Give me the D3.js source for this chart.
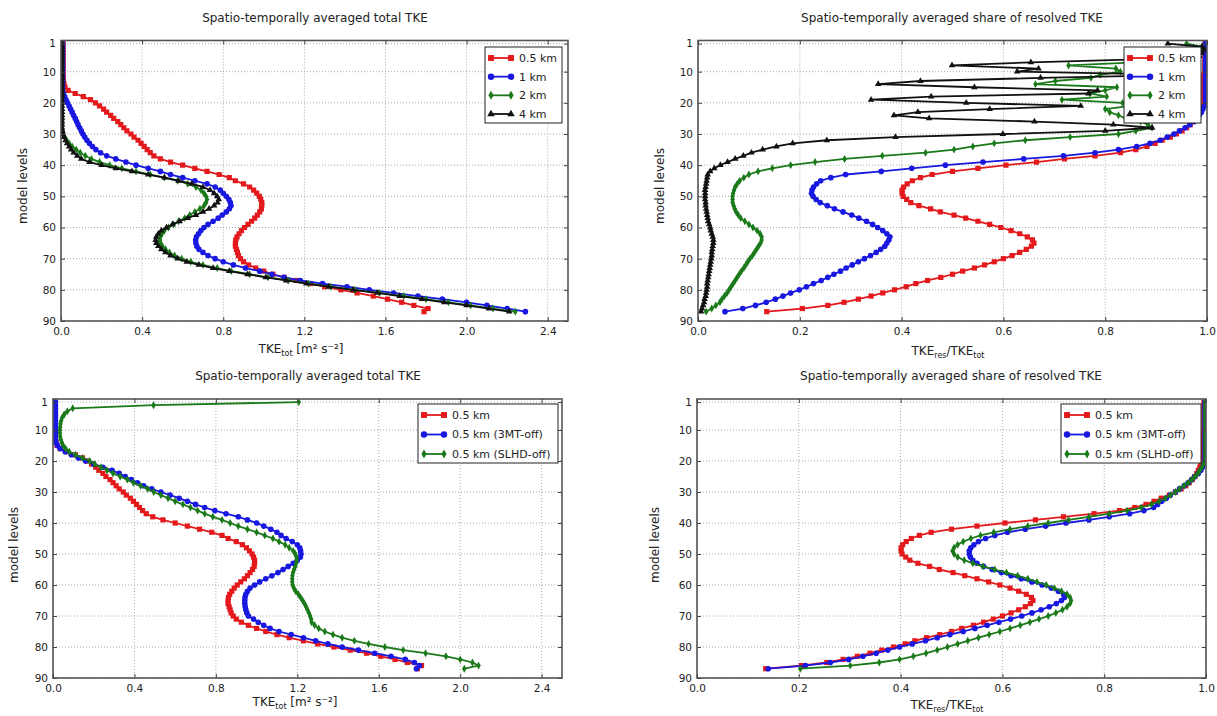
<!DOCTYPE html>
<html>
<head>
<meta charset="utf-8">
<script src="https://cdn.jsdelivr.net/npm/d3@7"></script>
<style>
  body { margin: 0; background: #fff; }
  text { font-family: "DejaVu Sans", sans-serif; fill: #222; }
</style>
</head>
<body>
<svg id="chart" width="1217" height="716"></svg>
<script>
// model levels (1 = top of atmosphere, 87 = lowest level)
const levels = [1,2,3,4,5,6,7,8,9,10,11,12,13,14,15,16,17,18,19,20,21,22,23,24,25,26,27,28,29,30,
  31,32,33,34,35,36,37,38,39,40,41,42,43,44,45,46,47,48,49,50,51,52,53,54,55,56,57,58,59,60,
  61,62,63,64,65,66,67,68,69,70,71,72,73,74,75,76,77,78,79,80,81,82,83,84,85,86,87];

const levelTicks = [1, 10, 20, 30, 40, 50, 60, 70, 80, 90];
const tkeTicks = [0, 0.4, 0.8, 1.2, 1.6, 2.0, 2.4];
const shareTicks = [0, 0.2, 0.4, 0.6, 0.8, 1.0];

// total TKE [m2 s-2]
const tke05 = [0.01,0.01,0.01,0.01,0.01,0.01,0.01,0.01,0.01,0.01,0.01,0.011,0.012,0.015,
  0.02,0.035,0.07,0.11,0.145,0.17,
  0.19,0.21,0.225,0.245,0.26,0.28,0.295,0.31,0.325,0.345,
  0.36,0.38,0.395,0.41,0.425,0.44,0.458,0.49,0.54,0.6,
  0.66,0.72,0.78,0.83,0.86,0.9,0.93,0.95,0.965,0.978,
  0.985,0.99,0.99,0.988,0.98,0.968,0.955,0.94,0.922,0.905,
  0.89,0.878,0.868,0.862,0.86,0.86,0.865,0.87,0.875,0.885,
  0.9,0.925,0.96,1.0,1.045,1.1,1.16,1.23,1.3,1.38,
  1.46,1.54,1.61,1.68,1.74,1.81,1.79];
const tke1 = [0.008,0.008,0.008,0.008,0.008,0.008,0.008,0.008,0.008,0.008,0.008,0.008,0.008,0.008,0.008,0.008,
  0.012,0.018,0.025,0.032,
  0.04,0.047,0.055,0.062,0.07,0.077,0.084,0.092,0.1,0.108,
  0.117,0.128,0.14,0.155,0.172,0.195,0.225,0.27,0.32,0.37,
  0.43,0.49,0.54,0.6,0.66,0.72,0.76,0.785,0.8,0.815,
  0.828,0.835,0.838,0.83,0.815,0.795,0.775,0.75,0.725,0.705,
  0.69,0.678,0.668,0.664,0.665,0.67,0.68,0.7,0.725,0.76,
  0.8,0.85,0.91,0.98,1.04,1.1,1.18,1.29,1.41,1.52,
  1.64,1.76,1.88,2.0,2.1,2.2,2.29];
const tke2 = [0.005,0.005,0.005,0.005,0.005,0.005,0.005,0.005,0.005,0.005,0.005,0.005,0.005,0.005,
  0.005,0.005,0.005,0.005,0.005,0.005,0.005,0.005,0.005,0.005,0.005,0.005,0.005,0.005,
  0.008,0.012,
  0.018,0.028,0.04,0.055,0.075,0.095,0.12,0.15,0.19,0.24,
  0.3,0.37,0.44,0.51,0.575,0.625,0.665,0.69,0.705,0.715,
  0.72,0.715,0.705,0.685,0.66,0.635,0.61,0.58,0.555,0.53,
  0.51,0.498,0.49,0.488,0.49,0.5,0.515,0.535,0.56,0.595,
  0.64,0.7,0.77,0.84,0.93,1.02,1.12,1.22,1.33,1.45,
  1.57,1.69,1.8,1.91,2.02,2.13,2.24];
const tke4 = [0.005,0.005,0.005,0.005,0.005,0.005,0.005,0.005,0.005,0.005,0.005,0.005,0.005,0.005,
  0.005,0.005,0.005,0.005,0.005,0.005,0.005,0.005,0.005,0.005,0.005,0.005,0.005,0.005,
  0.007,0.01,
  0.015,0.022,0.03,0.04,0.05,0.062,0.08,0.1,0.14,0.2,
  0.27,0.35,0.43,0.51,0.58,0.645,0.7,0.735,0.755,0.77,
  0.778,0.772,0.755,0.73,0.7,0.665,0.625,0.585,0.55,0.52,
  0.495,0.48,0.47,0.467,0.47,0.48,0.495,0.515,0.54,0.575,
  0.62,0.68,0.75,0.83,0.92,1.01,1.11,1.21,1.32,1.44,
  1.56,1.67,1.78,1.89,2.0,2.11,2.21];
const tke05_3mt = [0.012,0.012,0.012,0.012,0.012,0.012,0.012,0.012,0.012,0.012,0.012,0.012,0.012,
  0.015,0.022,0.035,0.06,0.09,0.125,0.16,
  0.2,0.245,0.29,0.325,0.355,0.385,0.415,0.445,0.485,0.53,
  0.575,0.62,0.66,0.7,0.745,0.795,0.85,0.91,0.955,1.0,
  1.035,1.07,1.1,1.12,1.145,1.175,1.2,1.212,1.216,1.218,
  1.215,1.2,1.18,1.155,1.13,1.105,1.075,1.045,1.015,0.99,
  0.968,0.955,0.947,0.943,0.942,0.942,0.944,0.947,0.952,0.96,
  0.985,1.008,1.035,1.066,1.11,1.17,1.23,1.29,1.35,1.42,
  1.5,1.58,1.66,1.73,1.775,1.8,1.785];
const tke05_slhd = [1.207,0.494,0.097,0.07,0.055,0.045,0.04,0.037,0.035,0.034,
  0.034,0.035,0.038,0.043,0.05,0.062,0.08,0.11,0.145,0.18,
  0.205,0.235,0.265,0.295,0.33,0.365,0.395,0.43,0.465,0.495,
  0.53,0.565,0.6,0.638,0.675,0.71,0.745,0.785,0.83,0.87,
  0.91,0.955,1.0,1.04,1.08,1.11,1.14,1.16,1.18,1.19,
  1.196,1.197,1.194,1.19,1.184,1.179,1.176,1.175,1.175,1.177,
  1.183,1.192,1.205,1.216,1.226,1.235,1.243,1.25,1.257,1.263,
  1.268,1.27,1.285,1.305,1.335,1.375,1.42,1.48,1.55,1.63,
  1.72,1.83,1.93,2.0,2.06,2.09,2.02];

// share of resolved TKE (TKE_res / TKE_tot)
const res05 = [0.996,0.996,0.996,0.996,0.996,0.996,0.996,0.996,0.996,0.996,
  0.994,0.994,0.994,0.994,0.994,0.994,0.994,0.994,0.994,0.994,
  0.99,0.988,0.985,0.982,0.978,0.973,0.967,0.96,0.951,0.94,
  0.928,0.912,0.898,0.882,0.86,0.83,0.78,0.72,0.665,0.605,
  0.55,0.5,0.46,0.437,0.421,0.411,0.404,0.401,0.401,0.403,
  0.41,0.418,0.434,0.457,0.476,0.503,0.526,0.55,0.573,0.595,
  0.615,0.632,0.647,0.657,0.66,0.655,0.645,0.632,0.617,0.6,
  0.582,0.563,0.543,0.52,0.5,0.477,0.451,0.428,0.409,0.386,
  0.363,0.34,0.315,0.287,0.255,0.205,0.135];
const res1 = [0.997,0.997,0.997,0.997,0.997,0.997,0.997,0.997,0.997,0.997,
  0.997,0.997,0.997,0.997,0.997,0.997,0.997,0.997,0.997,0.997,
  0.995,0.992,0.989,0.985,0.98,0.974,0.966,0.957,0.946,0.935,
  0.922,0.908,0.888,0.862,0.826,0.78,0.718,0.64,0.56,0.486,
  0.42,0.36,0.29,0.261,0.241,0.233,0.227,0.224,0.223,0.226,
  0.232,0.24,0.254,0.268,0.285,0.302,0.316,0.331,0.343,0.353,
  0.363,0.371,0.377,0.375,0.371,0.367,0.359,0.35,0.339,0.327,
  0.315,0.303,0.291,0.28,0.267,0.255,0.242,0.227,0.213,0.199,
  0.182,0.167,0.152,0.134,0.113,0.088,0.053];
const res2 = [0.96,0.99,0.99,0.985,0.98,0.96,0.86,0.728,0.821,0.83,
  0.79,0.772,0.702,0.663,0.823,0.8,0.77,0.803,0.715,0.834,
  0.85,0.8,0.809,0.826,0.84,0.87,0.884,0.892,0.86,0.826,
  0.731,0.643,0.582,0.54,0.503,0.447,0.362,0.288,0.23,0.182,
  0.146,0.118,0.1,0.09,0.082,0.077,0.073,0.071,0.069,0.068,
  0.068,0.068,0.07,0.072,0.075,0.079,0.084,0.092,0.1,0.108,
  0.116,0.122,0.125,0.125,0.123,0.119,0.115,0.111,0.107,0.102,
  0.098,0.094,0.09,0.085,0.081,0.077,0.073,0.069,0.065,0.061,
  0.057,0.052,0.047,0.043,0.035,0.027,0.016];
const res4 = [0.923,0.99,0.995,0.99,0.985,0.88,0.654,0.499,0.669,0.627,
  0.96,0.673,0.437,0.354,0.543,0.785,0.767,0.458,0.34,0.527,
  0.752,0.573,0.432,0.385,0.454,0.661,0.816,0.892,0.8,0.599,
  0.388,0.253,0.186,0.154,0.127,0.105,0.089,0.073,0.058,0.044,
  0.032,0.024,0.019,0.018,0.017,0.016,0.015,0.014,0.014,0.014,
  0.014,0.015,0.015,0.016,0.017,0.018,0.019,0.02,0.022,0.024,
  0.025,0.027,0.029,0.03,0.03,0.029,0.028,0.027,0.027,0.026,
  0.025,0.024,0.023,0.022,0.021,0.02,0.019,0.018,0.018,0.017,
  0.016,0.015,0.013,0.012,0.01,0.008,0.006];
const res05_3mt = [0.998,0.998,0.998,0.998,0.998,0.998,0.998,0.998,0.998,0.998,
  0.998,0.998,0.998,0.998,0.998,0.998,0.998,0.998,0.998,0.998,
  0.996,0.993,0.99,0.985,0.978,0.972,0.965,0.957,0.948,0.94,
  0.93,0.922,0.913,0.905,0.897,0.878,0.85,0.81,0.77,0.725,
  0.685,0.645,0.61,0.585,0.567,0.553,0.544,0.538,0.535,0.535,
  0.537,0.542,0.55,0.563,0.58,0.598,0.617,0.637,0.658,0.678,
  0.696,0.71,0.72,0.722,0.716,0.706,0.692,0.676,0.658,0.638,
  0.616,0.593,0.57,0.546,0.523,0.497,0.472,0.449,0.423,0.398,
  0.375,0.352,0.326,0.298,0.262,0.213,0.14];
const res05_slhd = [0.998,0.998,0.998,0.998,0.998,0.998,0.998,0.998,0.998,0.998,
  0.998,0.998,0.998,0.998,0.998,0.998,0.998,0.998,0.998,0.998,
  0.995,0.992,0.988,0.984,0.978,0.972,0.965,0.957,0.948,0.94,
  0.93,0.92,0.908,0.893,0.873,0.845,0.81,0.77,0.73,0.69,
  0.65,0.615,0.583,0.557,0.538,0.523,0.512,0.505,0.502,0.505,
  0.512,0.525,0.542,0.562,0.585,0.608,0.63,0.65,0.668,0.686,
  0.702,0.716,0.727,0.733,0.735,0.733,0.727,0.718,0.705,0.69,
  0.672,0.654,0.635,0.615,0.595,0.574,0.553,0.532,0.512,0.492,
  0.472,0.45,0.425,0.398,0.358,0.301,0.203];

const titleTotal = 'Spatio-temporally averaged total TKE';
const titleShare = 'Spatio-temporally averaged share of resolved TKE';

const RED = '#e3191c', BLUE = '#1818e0', GREEN = '#1a7a1a', BLACK = '#111';
const mk = {
  square: { type: d3.symbolSquare, size: 27 },
  circle: { type: d3.symbolCircle, size: 25 },
  diamond: { type: d3.symbolDiamond, size: 18 },
  triangle: { type: d3.symbolTriangle, size: 19 }
};

const panels = [
  { id: 1, kind: 'tke', left: 61, right: 568, top: 40.5, bottom: 321,
    titleX: 315, titleY: 22, xlabX: 301, xlabY: 353, ylabX: 23, ylabY: 186,
    legend: { x: 485, y: 47, w: 77, h: 76 },
    series: [
      { name: '0.5 km', values: tke05, color: RED, marker: mk.square },
      { name: '1 km', values: tke1, color: BLUE, marker: mk.circle },
      { name: '2 km', values: tke2, color: GREEN, marker: mk.diamond },
      { name: '4 km', values: tke4, color: BLACK, marker: mk.triangle }
    ] },
  { id: 2, kind: 'share', left: 698, right: 1207, top: 40.5, bottom: 321,
    titleX: 952, titleY: 22, xlabX: 948, xlabY: 355, ylabX: 660, ylabY: 186,
    legend: { x: 1124, y: 47, w: 77, h: 76 },
    series: [
      { name: '0.5 km', values: res05, color: RED, marker: mk.square },
      { name: '1 km', values: res1, color: BLUE, marker: mk.circle },
      { name: '2 km', values: res2, color: GREEN, marker: mk.diamond },
      { name: '4 km', values: res4, color: BLACK, marker: mk.triangle }
    ] },
  { id: 3, kind: 'tke', left: 53, right: 562, top: 399, bottom: 678,
    titleX: 308, titleY: 380, xlabX: 295, xlabY: 706, ylabX: 14, ylabY: 545,
    legend: { x: 418, y: 404, w: 140, h: 59 },
    series: [
      { name: '0.5 km', values: tke05, color: RED, marker: mk.square },
      { name: '0.5 km (3MT-off)', values: tke05_3mt, color: BLUE, marker: mk.circle },
      { name: '0.5 km (SLHD-off)', values: tke05_slhd, color: GREEN, marker: mk.diamond }
    ] },
  { id: 4, kind: 'share', left: 697, right: 1206, top: 399, bottom: 678,
    titleX: 951, titleY: 380, xlabX: 947, xlabY: 709, ylabX: 655, ylabY: 545,
    legend: { x: 1061, y: 404, w: 140, h: 59 },
    series: [
      { name: '0.5 km', values: res05, color: RED, marker: mk.square },
      { name: '0.5 km (3MT-off)', values: res05_3mt, color: BLUE, marker: mk.circle },
      { name: '0.5 km (SLHD-off)', values: res05_slhd, color: GREEN, marker: mk.diamond }
    ] }
];

const svg = d3.select('#chart');
const defs = svg.append('defs');

function drawPanel(p) {
  const isTke = p.kind === 'tke';
  const xTicks = isTke ? tkeTicks : shareTicks;
  const x = d3.scaleLinear().domain(isTke ? [0, 2.5] : [0, 1]).range([p.left, p.right]);
  const y = d3.scaleLinear().domain([0, 90]).range([p.top, p.bottom]);
  const g = svg.append('g');

  defs.append('clipPath').attr('id', 'clip' + p.id)
    .append('rect')
    .attr('x', p.left).attr('y', p.top)
    .attr('width', p.right - p.left).attr('height', p.bottom - p.top);

  // dotted grid
  const grid = g.append('g')
    .attr('stroke', '#a8a8a8')
    .attr('stroke-width', 1)
    .attr('stroke-dasharray', '1,2');
  grid.selectAll('.gx').data(xTicks).join('line')
    .attr('x1', d => x(d)).attr('x2', d => x(d))
    .attr('y1', p.top).attr('y2', p.bottom);
  grid.selectAll('.gy').data(levelTicks).join('line')
    .attr('x1', p.left).attr('x2', p.right)
    .attr('y1', d => y(d)).attr('y2', d => y(d));

  // profiles
  const plot = g.append('g').attr('clip-path', `url(#clip${p.id})`);
  const line = d3.line().x(d => x(d.v)).y(d => y(d.lev));
  p.series.forEach(s => {
    const pts = levels.map((lev, i) => ({ lev, v: s.values[i] }));
    plot.append('path')
      .datum(pts)
      .attr('fill', 'none')
      .attr('stroke', s.color)
      .attr('stroke-width', 1.8)
      .attr('stroke-linejoin', 'round')
      .attr('d', line);
    plot.append('g')
      .selectAll('path')
      .data(pts)
      .join('path')
      .attr('transform', d => `translate(${x(d.v)},${y(d.lev)})`)
      .attr('d', d3.symbol(s.marker.type, s.marker.size))
      .attr('fill', s.color);
  });

  // frame
  g.append('rect')
    .attr('x', p.left).attr('y', p.top)
    .attr('width', p.right - p.left).attr('height', p.bottom - p.top)
    .attr('fill', 'none')
    .attr('stroke', '#555')
    .attr('stroke-width', 1.6);

  // inward ticks on all four sides
  const fmt = d3.format('.1f');
  const axB = g.append('g').attr('transform', `translate(0,${p.bottom})`)
    .call(d3.axisBottom(x).tickValues(xTicks).tickSize(-4).tickPadding(7).tickFormat(fmt));
  g.append('g').attr('transform', `translate(0,${p.top})`)
    .call(d3.axisTop(x).tickValues(xTicks).tickSize(-4).tickFormat(''));
  const axL = g.append('g').attr('transform', `translate(${p.left},0)`)
    .call(d3.axisLeft(y).tickValues(levelTicks).tickSize(-4).tickPadding(5));
  g.append('g').attr('transform', `translate(${p.right},0)`)
    .call(d3.axisRight(y).tickValues(levelTicks).tickSize(-4).tickFormat(''));
  g.selectAll('.domain').remove();
  g.selectAll('.tick line').attr('stroke', '#444');
  [axB, axL].forEach(a => a.selectAll('text')
    .attr('font-family', '"DejaVu Sans", sans-serif')
    .attr('font-size', 10.5)
    .attr('fill', '#333'));

  // title
  g.append('text')
    .attr('x', p.titleX).attr('y', p.titleY)
    .attr('text-anchor', 'middle')
    .attr('font-size', 12)
    .text(isTke ? titleTotal : titleShare);

  // x label with subscripts
  const xl = g.append('text')
    .attr('x', p.xlabX).attr('y', p.xlabY)
    .attr('text-anchor', 'middle')
    .attr('font-size', 12);
  if (isTke) {
    xl.append('tspan').text('TKE');
    xl.append('tspan').attr('font-size', 8).attr('dy', 3).text('tot');
    xl.append('tspan').attr('dy', -3).text(' [m² s⁻²]');
  } else {
    xl.append('tspan').text('TKE');
    xl.append('tspan').attr('font-size', 8).attr('dy', 3).text('res');
    xl.append('tspan').attr('dy', -3).text('/TKE');
    xl.append('tspan').attr('font-size', 8).attr('dy', 3).text('tot');
  }

  // y label
  g.append('text')
    .attr('transform', `translate(${p.ylabX},${p.ylabY}) rotate(-90)`)
    .attr('text-anchor', 'middle')
    .attr('dy', '0.35em')
    .attr('font-size', 12)
    .attr('fill', '#333')
    .text('model levels');

  // legend
  const L = p.legend;
  const lg = g.append('g');
  lg.append('rect')
    .attr('x', L.x).attr('y', L.y).attr('width', L.w).attr('height', L.h)
    .attr('fill', '#fff')
    .attr('stroke', '#222')
    .attr('stroke-width', 1);
  const step = (L.h - 20) / Math.max(p.series.length - 1, 1);
  p.series.forEach((s, i) => {
    const ly = L.y + 11 + i * step;
    const x0 = L.x + 6, x1 = L.x + 26;
    lg.append('line')
      .attr('x1', x0).attr('x2', x1).attr('y1', ly).attr('y2', ly)
      .attr('stroke', s.color).attr('stroke-width', 1.8);
    lg.selectAll(null).data([x0, x1]).join('path')
      .attr('transform', d => `translate(${d},${ly})`)
      .attr('d', d3.symbol(s.marker.type, s.marker.size * 1.3))
      .attr('fill', s.color);
    lg.append('text')
      .attr('x', L.x + 34).attr('y', ly)
      .attr('dy', '0.35em')
      .attr('font-size', 11)
      .text(s.name);
  });
}

panels.forEach(drawPanel);
</script>
</body>
</html>
